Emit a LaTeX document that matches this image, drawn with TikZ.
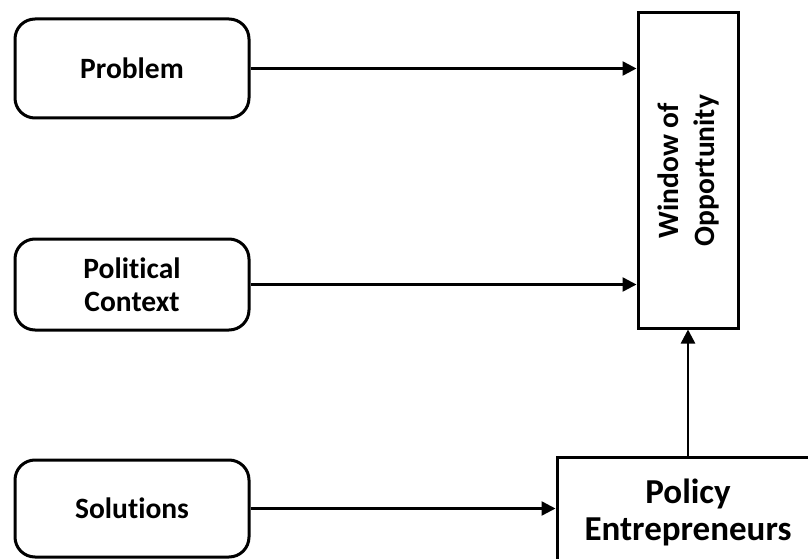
\documentclass[tikz,border=0pt]{standalone}
\usepackage{fontspec}
\setmainfont[Ligatures=NoCommon]{Carlito}
\usetikzlibrary{arrows.meta}
\tikzset{
  roundbox/.style={draw, line width=3pt, rounded corners=20pt, minimum width=234pt, align=center, font=\bfseries\fontsize{29.5}{33}\selectfont},
  sqbox/.style={draw, line width=3pt, align=center},
  conn/.style={line width=2.5pt, -{Triangle[length=14pt,width=14pt]}}
}
\begin{document}
\begin{tikzpicture}[x=1pt,y=-1pt]
\useasboundingbox (0,0) rectangle (808,559);
\clip (0,0) rectangle (808,559);
\node[roundbox, minimum height=99pt] (problem) at (132,68.5) {Problem};
\node[roundbox, minimum height=91pt] (political) at (132,284.5) {Political\\Context};
\node[roundbox, minimum height=97pt] (solutions) at (132,508.5) {Solutions};
\node[sqbox, minimum width=100pt, minimum height=315pt] (window) at (688,170.5) {};
\node[rotate=90, align=center, font=\bfseries\fontsize{29.5}{36}\selectfont] (wtext) at (window.center) {Window of\\Opportunity};
\node[sqbox, minimum width=262pt, minimum height=110pt, font=\bfseries\fontsize{35}{37}\selectfont] (policy) at (688,512) {Policy\\Entrepreneurs};
\draw[conn] (problem.east) -- (problem.east -| window.west);
\draw[conn] (political.east) -- (political.east -| window.west);
\draw[conn] (solutions.east) -- (solutions.east -| policy.west);
\draw[conn] (policy.north) -- (window.south);
\end{tikzpicture}
\end{document}
